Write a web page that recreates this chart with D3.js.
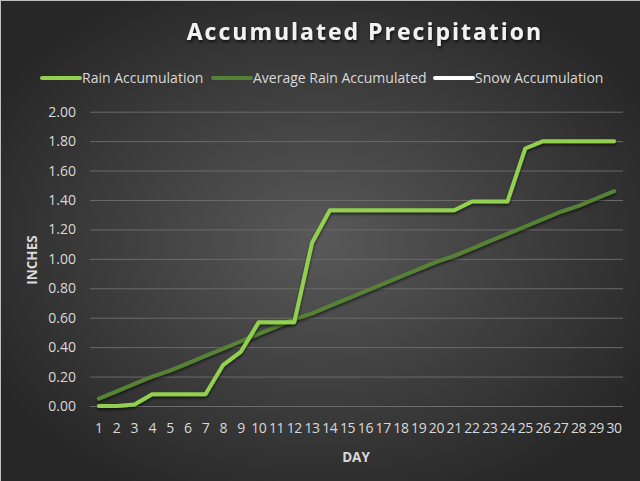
<!DOCTYPE html>
<html>
<head>
<meta charset="utf-8">
<script src="https://cdn.jsdelivr.net/npm/d3@7"></script>
<style>
html,body{margin:0;padding:0;background:#2a2a2a;}
svg{display:block;}
</style>
</head>
<body>
<svg id="chart" width="640" height="481"></svg>
<script>
const days = d3.range(1, 31).map(String);
const rainAccumulation = [0.00,0.00,0.01,0.08,0.08,0.08,0.08,0.28,0.37,0.57,0.57,0.57,1.11,1.33,1.33,1.33,1.33,1.33,1.33,1.33,1.33,1.39,1.39,1.39,1.75,1.80,1.80,1.80,1.80,1.80];
const averageRainAccumulated = [0.05,0.10,0.15,0.20,0.24,0.29,0.34,0.39,0.44,0.49,0.54,0.59,0.63,0.68,0.73,0.78,0.83,0.88,0.93,0.98,1.02,1.07,1.12,1.17,1.22,1.27,1.32,1.36,1.41,1.46];
const snowAccumulation = [];
const yTicks = [0,0.2,0.4,0.6,0.8,1.0,1.2,1.4,1.6,1.8,2.0];
const seriesNames = ["Rain Accumulation","Average Rain Accumulated","Snow Accumulation"];
const seriesColors = ["#92d050","#548235","#ffffff"];

const W = 640, H = 481;
const svg = d3.select("#chart");
const defs = svg.append("defs");
const rg = defs.append("radialGradient").attr("id","bg")
  .attr("cx","50%").attr("cy","50%").attr("r","60%");
rg.append("stop").attr("offset","0%").attr("stop-color","#595959");
rg.append("stop").attr("offset","100%").attr("stop-color","#262626");
const sh = defs.append("filter").attr("id","shadow").attr("x","-10%").attr("y","-10%").attr("width","120%").attr("height","130%");
sh.append("feDropShadow").attr("dx",0).attr("dy",2).attr("stdDeviation",1.5).attr("flood-color","#000").attr("flood-opacity",0.6);
const tsh = defs.append("filter").attr("id","tshadow");
tsh.append("feDropShadow").attr("dx",1).attr("dy",2).attr("stdDeviation",1.5).attr("flood-color","#000").attr("flood-opacity",0.7);

svg.append("rect").attr("width",W).attr("height",H).attr("fill","url(#bg)");
svg.append("line").attr("x1",0).attr("x2",W).attr("y1",0.5).attr("y2",0.5).attr("stroke","#bfbfbf");
svg.append("line").attr("x1",0.5).attr("x2",0.5).attr("y1",0).attr("y2",H).attr("stroke","#bfbfbf");

const plot = {left:90, right:623, top:111.7, bottom:406};
const x = d3.scaleBand().domain(days).range([plot.left, plot.right]);
const y = d3.scaleLinear().domain([0,2]).range([plot.bottom, plot.top]);
const font = "'Open Sans',sans-serif";

// gridlines + y axis
const yAxis = d3.axisLeft(y).tickValues(yTicks).tickFormat(d3.format(".2f"))
  .tickSize(-(plot.right-plot.left)).tickPadding(14);
const gy = svg.append("g").attr("transform",`translate(${plot.left},0)`).call(yAxis);
gy.select(".domain").remove();
gy.selectAll(".tick line").attr("stroke","#6b6b6b").attr("stroke-width",1);
gy.selectAll(".tick text").attr("fill","#d9d9d9").attr("font-size","14px").attr("font-family",font);

const xAxis = d3.axisBottom(x).tickSize(0).tickPadding(17);
const gx = svg.append("g").attr("transform",`translate(0,${plot.bottom})`).call(xAxis);
gx.select(".domain").remove();
gx.selectAll(".tick text").attr("fill","#d9d9d9").attr("font-size","14px").attr("letter-spacing","-0.4px").attr("font-family",font);

// axis titles
svg.append("text").attr("x",356).attr("y",462).attr("text-anchor","middle")
  .attr("fill","#d9d9d9").attr("font-size","13.5px").attr("font-weight","bold").attr("font-family",font).text("DAY");
svg.append("text").attr("transform","translate(37,260) rotate(-90)").attr("text-anchor","middle")
  .attr("fill","#d9d9d9").attr("font-size","13.5px").attr("font-weight","bold").attr("font-family",font).text("INCHES");

// title
svg.append("text").attr("x",365).attr("y",39.5).attr("text-anchor","middle")
  .attr("fill","#f2f2f2").attr("font-size","23px").attr("font-weight","bold")
  .attr("letter-spacing","2px").attr("font-family",font)
  .attr("filter","url(#tshadow)").text("Accumulated Precipitation");

// lines
const line = d3.line().x((d,i)=>x(days[i])+x.bandwidth()/2).y(d=>y(d));
const seriesData = [rainAccumulation, averageRainAccumulated, snowAccumulation];
[1,0,2].forEach(k=>{
  if(!seriesData[k].length) return;
  svg.append("path").datum(seriesData[k]).attr("d",line)
    .attr("fill","none").attr("stroke",seriesColors[k]).attr("stroke-width",4)
    .attr("stroke-linejoin","round").attr("stroke-linecap","round")
    .attr("filter","url(#shadow)");
});

// legend
const legendX = [42, 213, 435];
const lg = svg.append("g");
seriesNames.forEach((n,i)=>{
  lg.append("line").attr("x1",legendX[i]).attr("x2",legendX[i]+38).attr("y1",78).attr("y2",78)
    .attr("stroke",seriesColors[i]).attr("stroke-width",4).attr("stroke-linecap","round");
  lg.append("text").attr("x",legendX[i]+40).attr("y",82.5).attr("fill","#d9d9d9")
    .attr("font-size","14px").attr("font-family",font).text(n);
});
</script>
</body>
</html>
